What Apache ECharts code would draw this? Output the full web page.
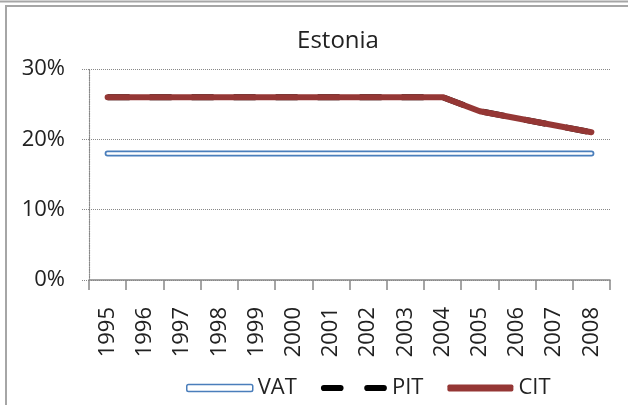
<!DOCTYPE html>
<html>
<head>
<meta charset="UTF-8">
<title>Estonia</title>
<script src="https://cdn.jsdelivr.net/npm/echarts@6/dist/echarts.min.js"></script>
<style>
  html, body { margin: 0; padding: 0; background: #fff; }
  #chart { width: 628px; height: 405px; }
</style>
</head>
<body>
<div id="chart"></div>
<script>
// 数据
var years = ["1995", "1996", "1997", "1998", "1999", "2000", "2001", "2002", "2003", "2004", "2005", "2006", "2007", "2008"];
var vat = [18, 18, 18, 18, 18, 18, 18, 18, 18, 18, 18, 18, 18, 18];
var pit = [26, 26, 26, 26, 26, 26, 26, 26, 26, 26, 24, 23, 22, 21];
var cit = [26, 26, 26, 26, 26, 26, 26, 26, 26, 26, 24, 23, 22, 21];
var yTicks = [0, 10, 20, 30];

var font = "Open Sans";
var chart = echarts.init(document.getElementById("chart"));

var option = {
  animation: false,
  backgroundColor: "#fff",
  title: {
    text: "Estonia",
    left: 333,
    top: 24,
    textAlign: "center",
    textStyle: { fontFamily: font, fontSize: 24, fontWeight: "normal", color: "#222" }
  },
  legend: {
    left: 181,
    top: 372,
    itemWidth: 66,
    itemHeight: 7,
    itemGap: 24,
    textStyle: { fontFamily: font, fontSize: 22, color: "#222" },
    data: [
      { name: "VAT", icon: "roundRect", itemStyle: { color: "#fff", borderColor: "#4a7ebb", borderWidth: 1.5 } },
      { name: "PIT", icon: "path://M3,0h16a3,3 0 0 1 0,6h-16a3,3 0 0 1 0,-6z M45,0h16a3,3 0 0 1 0,6h-16a3,3 0 0 1 0,-6z", itemStyle: { color: "#000" } },
      { name: "CIT", icon: "roundRect", itemStyle: { color: "#953735" } }
    ]
  },
  graphic: [
    { type: "line", shape: { x1: 0, y1: 1.5, x2: 628, y2: 1.5 }, style: { stroke: "#a6a6a6", lineWidth: 2 } },
    { type: "line", shape: { x1: 5, y1: 6, x2: 628, y2: 6 }, style: { stroke: "#a6a6a6", lineWidth: 2 } },
    { type: "line", shape: { x1: 6, y1: 6, x2: 6, y2: 405 }, style: { stroke: "#a6a6a6", lineWidth: 2 } }
  ],
  grid: { left: 89, right: 18, top: 69, bottom: 125 },
  xAxis: {
    type: "category",
    data: years,
    boundaryGap: true,
    axisLine: { lineStyle: { color: "#888", width: 1.5 } },
    axisTick: { show: true, length: 10, lineStyle: { color: "#888", width: 1.5 } },
    axisLabel: { rotate: 90, margin: 27, fontFamily: font, fontSize: 22, color: "#222" }
  },
  yAxis: {
    type: "value",
    min: yTicks[0],
    max: yTicks[yTicks.length - 1],
    interval: 10,
    axisLine: { show: true, lineStyle: { color: "#888", type: "dotted", width: 1.2 } },
    axisTick: { show: true, length: 7, lineStyle: { color: "#888", type: "dotted" } },
    splitLine: { lineStyle: { color: "#888", type: "dotted", width: 1 } },
    axisLabel: { formatter: "{value}%", margin: 24, fontFamily: font, fontSize: 22, color: "#222" }
  },
  series: [
    {
      name: "VAT", type: "line", data: vat, symbol: "none",
      lineStyle: { color: "#4a7ebb", width: 6, cap: "round" }, z: 2
    },
    {
      name: "VAT-inner", type: "line", data: vat, symbol: "none",
      lineStyle: { color: "#fff", width: 2.5, cap: "round" }, z: 3
    },
    {
      name: "PIT", type: "line", data: pit, symbol: "none",
      lineStyle: { color: "#000", width: 6, type: [22, 20] }, z: 4
    },
    {
      name: "CIT", type: "line", data: cit, symbol: "none",
      lineStyle: { color: "#953735", width: 6, cap: "round", join: "round" }, z: 5
    }
  ]
};

chart.setOption(option);
</script>
</body>
</html>
